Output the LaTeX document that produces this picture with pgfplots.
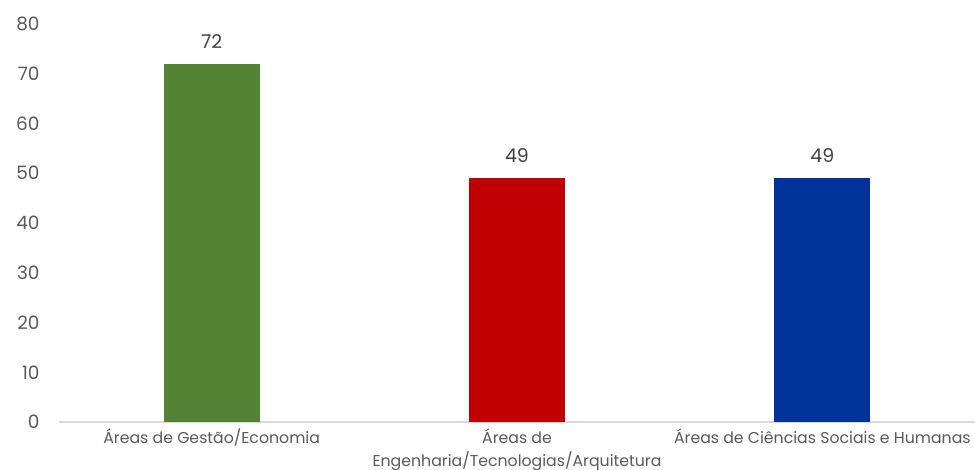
\documentclass[border=0pt]{standalone}
\usepackage{pgfplots}
\pgfplotsset{compat=1.18}
\usepackage{fontspec}
\setmainfont{Poppins}
\definecolor{cgreen}{HTML}{548235}
\definecolor{cred}{HTML}{C00000}
\definecolor{cblue}{HTML}{003399}
\definecolor{tgray}{HTML}{595959}
\definecolor{lgray}{HTML}{D9D9D9}
\begin{document}
\begin{tikzpicture}[x=1bp,y=1bp]
\useasboundingbox (0,0) rectangle (975,470);
\begin{axis}[
  at={(59bp,48bp)}, anchor=south west,
  scale only axis, width=916bp, height=398bp,
  xmin=-0.5, xmax=2.5, ymin=0, ymax=80,
  ytick={0,10,...,80},
  xtick={0,1,2},
  xticklabels={{Áreas de Gestão/Economia},{Áreas de\\Engenharia/Tecnologias/Arquitetura},{Áreas de Ciências Sociais e Humanas}},
  axis y line*=left,
  y axis line style={draw=none},
  axis x line*=bottom,
  x axis line style={draw=lgray, line width=1.2pt, -},
  major tick length=0pt,
  xticklabel style={font=\fontsize{15.8}{23}\selectfont, text=tgray, align=center, yshift=-3bp},
  yticklabel style={font=\fontsize{18.5}{20}\selectfont, text=tgray, xshift=-16bp},
  /pgf/number format/assume math mode=true,
  ybar, bar width=96bp, bar shift=0pt,
  nodes near coords,
  every node near coord/.append style={font=\fontsize{19}{21}\selectfont, text=black!75, yshift=12bp},
  clip=false,
]
\addplot[fill=cgreen, draw=none] coordinates {(0,72)};
\addplot[fill=cred, draw=none] coordinates {(1,49)};
\addplot[fill=cblue, draw=none] coordinates {(2,49)};
\end{axis}
\end{tikzpicture}
\end{document}
